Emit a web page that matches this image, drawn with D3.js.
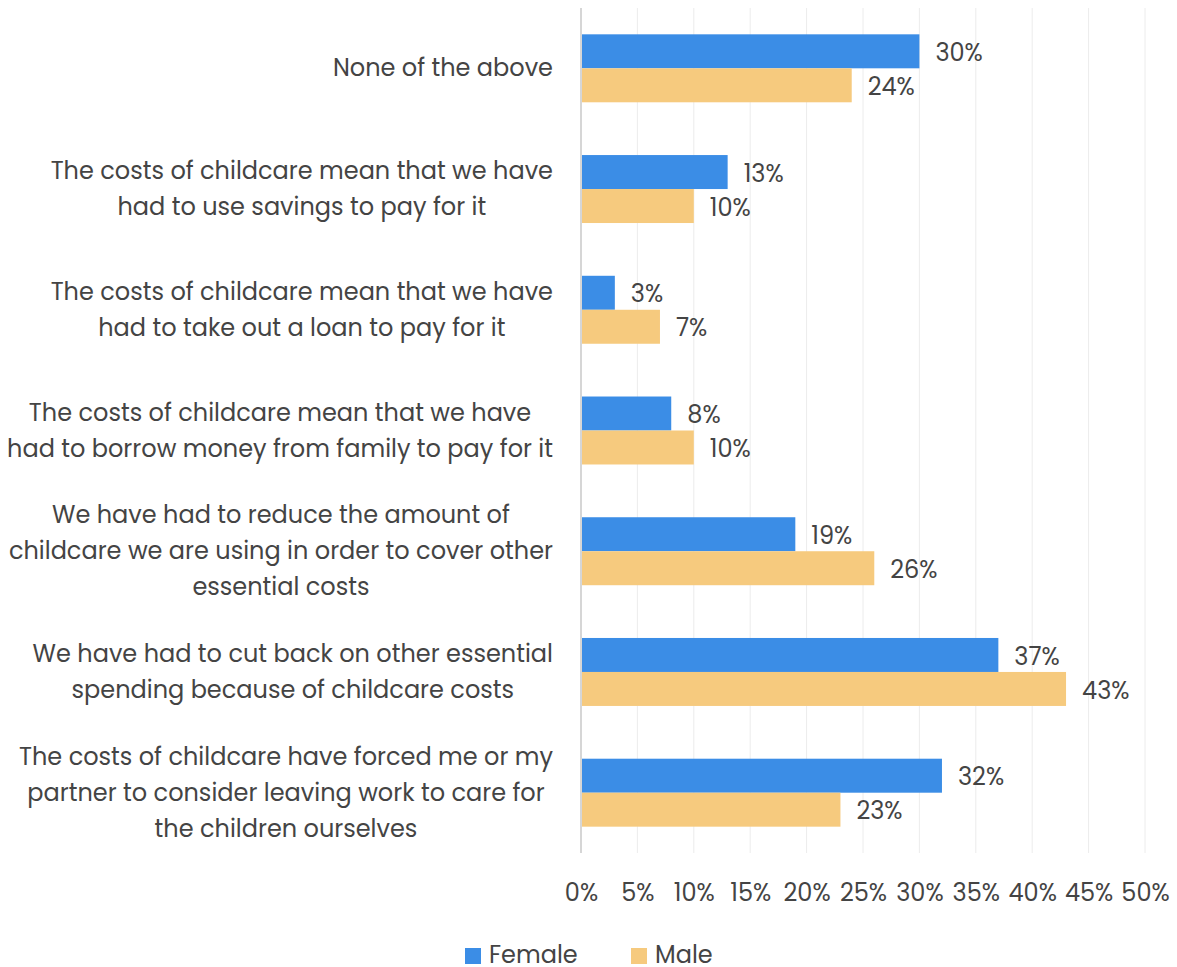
<!DOCTYPE html>
<html>
<head>
<meta charset="utf-8">
<script src="https://cdn.jsdelivr.net/npm/d3@7"></script>
<style>
  html, body { margin: 0; padding: 0; background: #fff; }
  svg { display: block; }
  text { font-family: "Poppins", "Open Sans", "Noto Sans", sans-serif; fill: #444; }
</style>
</head>
<body>
<svg id="chart" width="1177" height="967"></svg>
<script>
// Survey answers, each split into display lines
const categories = [
  ["None of the above"],
  ["The costs of childcare mean that we have", "had to use savings to pay for it"],
  ["The costs of childcare mean that we have", "had to take out a loan to pay for it"],
  ["The costs of childcare mean that we have", "had to borrow money from family to pay for it"],
  ["We have had to reduce the amount of", "childcare we are using in order to cover other", "essential costs"],
  ["We have had to cut back on other essential", "spending because of childcare costs"],
  ["The costs of childcare have forced me or my", "partner to consider leaving work to care for", "the children ourselves"]
];
const seriesNames = ["Female", "Male"];
const female = [30, 13, 3, 8, 19, 37, 32];
const male = [24, 10, 7, 10, 26, 43, 23];
const tickValues = [0, 5, 10, 15, 20, 25, 30, 35, 40, 45, 50];
const colors = ["#3b8de6", "#f6ca7e"];

const svg = d3.select("#chart");
const plotLeft = 581, plotRight = 1145, plotTop = 8, plotBottom = 853;
const fontSize = 24;

const x = d3.scaleLinear().domain([0, 50]).range([plotLeft, plotRight]);
const y = d3.scaleBand().domain(d3.range(categories.length)).range([plotTop, plotBottom]).paddingInner(0.437).paddingOuter(0.218);
const sub = d3.scaleBand().domain(seriesNames).range([0, y.bandwidth()]);
const color = d3.scaleOrdinal().domain(seriesNames).range(colors);

// vertical gridlines
svg.append("g").selectAll("line").data(tickValues.slice(1)).join("line")
  .attr("x1", d => x(d)).attr("x2", d => x(d))
  .attr("y1", plotTop).attr("y2", plotBottom)
  .attr("stroke", "#ececec").attr("stroke-width", 1);

// bars
const rows = categories.map((c, i) => ({ i, values: [female[i], male[i]] }));
const groups = svg.append("g").selectAll("g").data(rows).join("g")
  .attr("transform", d => `translate(0,${y(d.i)})`);

groups.selectAll("rect").data(d => d.values.map((v, k) => ({ v, s: seriesNames[k] }))).join("rect")
  .attr("x", x(0))
  .attr("y", d => sub(d.s))
  .attr("width", d => x(d.v) - x(0))
  .attr("height", sub.bandwidth())
  .attr("fill", d => color(d.s));

groups.selectAll("text.val").data(d => d.values.map((v, k) => ({ v, s: seriesNames[k] }))).join("text")
  .attr("class", "val")
  .attr("x", d => x(d.v) + 16)
  .attr("y", d => sub(d.s) + sub.bandwidth() / 2)
  .attr("dy", "0.4em")
  .attr("font-size", fontSize)
  .text(d => d.v + "%");

// baseline axis
svg.append("line")
  .attr("x1", x(0)).attr("x2", x(0)).attr("y1", plotTop).attr("y2", plotBottom)
  .attr("stroke", "#d6d6d6").attr("stroke-width", 2);

// x axis tick labels
const xAxis = d3.axisBottom(x).tickValues(tickValues).tickFormat(d => d + "%").tickSize(0).tickPadding(0);
const ax = svg.append("g").attr("transform", "translate(0,892)").call(xAxis);
ax.select(".domain").remove();
ax.selectAll("text").attr("font-size", fontSize).attr("fill", "#444").attr("y", 0).attr("dy", "0.37em")
  .style("font-family", '"Poppins", "Open Sans", "Noto Sans", sans-serif');

// category labels: block right-aligned, lines centred within the block
const lineH = 36;
categories.forEach((lines, i) => {
  const g = svg.append("g");
  const cy = y(i) + y.bandwidth() / 2;
  const t = g.selectAll("text").data(lines).join("text")
    .attr("font-size", fontSize)
    .attr("text-anchor", "middle")
    .attr("y", (d, k) => cy + (k - (lines.length - 1) / 2) * lineH)
    .attr("dy", "0.34em")
    .text(d => d);
  let maxW = 0;
  t.each(function () { maxW = Math.max(maxW, this.getComputedTextLength()); });
  t.attr("x", 553 - maxW / 2);
});

// legend
const legend = svg.append("g").selectAll("g").data(seriesNames).join("g")
  .attr("transform", (d, k) => `translate(${k === 0 ? 465 : 631},948)`);
legend.append("rect").attr("width", 16).attr("height", 16).attr("fill", d => color(d));
legend.append("text").attr("x", 24).attr("y", 15).attr("font-size", fontSize).text(d => d);
</script>
</body>
</html>
